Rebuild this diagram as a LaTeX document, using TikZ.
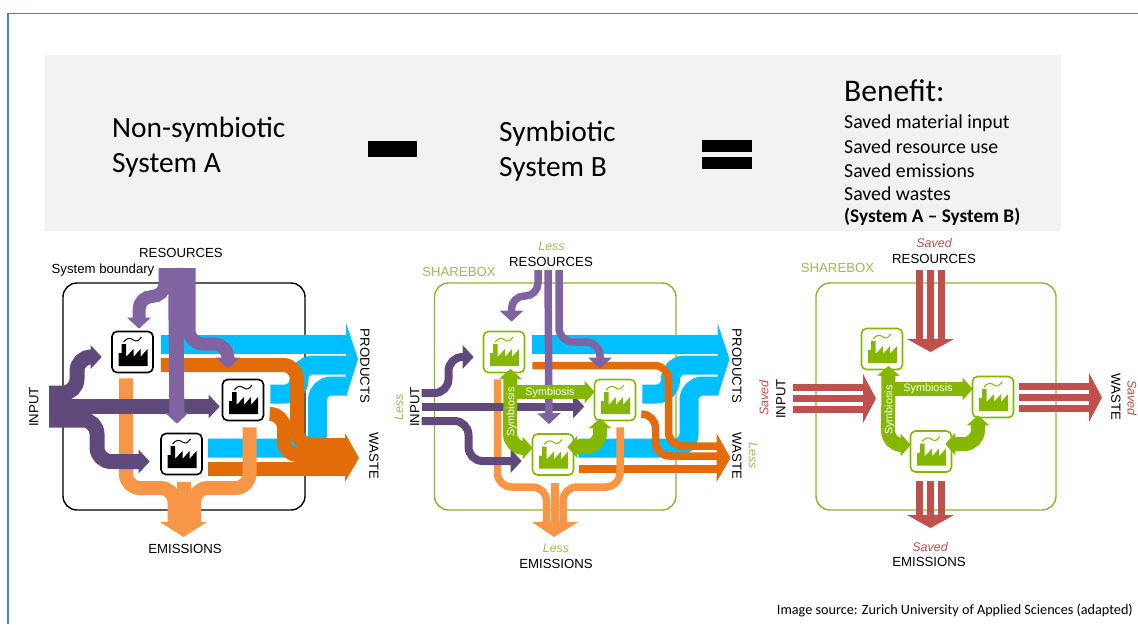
\documentclass[tikz,border=0pt]{standalone}
\usepackage{fontspec}
\setmainfont{Carlito}
\newfontfamily\labelfont{Liberation Sans}
\usetikzlibrary{arrows.meta}
\definecolor{sky}{HTML}{00BFFF}
\definecolor{rust}{HTML}{E36C0A}
\definecolor{peach}{HTML}{F79646}
\definecolor{plum}{HTML}{604A7B}
\definecolor{lilac}{HTML}{8064A2}
\definecolor{saved}{HTML}{C0504D}
\definecolor{leaf}{HTML}{85B700}
\definecolor{edge}{HTML}{8DB32A}
\definecolor{less}{HTML}{9BBB59}
\definecolor{frame}{HTML}{4F81BD}
\tikzset{band/.style={line width=#1pt, rounded corners=14pt},
  tipped/.style={-{Triangle[length=11pt,width=23pt]}},
  symb/.style={line width=14pt, rounded corners=14pt, leaf},
  both/.style={{Triangle[length=10pt,width=22pt]}-{Triangle[length=10pt,width=22pt]}},
  single/.style={-{Triangle[length=10pt,width=22pt]}},
  boundary/.style={line width=1.4pt, rounded corners=14pt},
  plant/.style={draw=#1, fill=white, line width=1.6pt, rounded corners=5pt, minimum size=41pt, inner sep=0pt,
    path picture={
      \fill[#1, sharp corners, shift={(path picture bounding box.center)}] (-14,14) -- (-14,1) -- (-11,1) -- (-11,-8) -- (-6.5,-8) -- (-6.5,5) -- (1,-3) -- (1,5) -- (8,-3) -- (8,5) -- (15,-3) -- (15,14) -- cycle;
      \draw[#1, sharp corners, line width=1pt, shift={(path picture bounding box.center)}] (-9,-10) .. controls (-5,-15) and (-2,-14) .. (1,-12) .. controls (4,-10) and (6,-11) .. (9,-15);
    }},
  tag/.style={font=\labelfont\fontsize{13.2}{15}\selectfont, inner sep=0pt},
  hint/.style={font=\labelfont\itshape\fontsize{12.5}{14}\selectfont, inner sep=0pt},
  symtext/.style={font=\labelfont\fontsize{10.8}{13}\selectfont, text=white, inner sep=0pt},
  head/.style={font=\fontsize{29.4}{32}\selectfont, inner sep=0pt, anchor=west},
  item/.style={font=\fontsize{19.8}{22}\selectfont, inner sep=0pt, anchor=west}}
\begin{document}
\begin{tikzpicture}[x=1pt,y=-1pt]
   \useasboundingbox (0,0) rectangle (1138,624);
   \draw[frame, line width=1.5pt] (8,624) -- (8,13.5) -- (1138,13.5);
   \fill[black!5] (45,55) rectangle (1061,231);
   \node[head] (nonsym) at (112,130) {Non-symbiotic};
   \node[head] (sysa) at (112,165) {System A};
   \node[head] (sym) at (499,134) {Symbiotic};
   \node[head] (sysb) at (499,169) {System B};
   \fill (368,141) rectangle (417,157);
   \fill (702,140) rectangle (752,152);
   \fill (702,157) rectangle (752,169);
   \node[head, font=\fontsize{31.5}{34}\selectfont] (benefit) at (844,91) {Benefit:};
   \node[item] (it1) at (844,123) {Saved material input};
   \node[item] (it2) at (844,147) {Saved resource use};
   \node[item] (it3) at (844,171) {Saved emissions};
   \node[item] (it4) at (844,194) {Saved wastes};
   \node[item, font=\bfseries\fontsize{19.3}{22}\selectfont] (it5) at (844,217) {(System A -- System B)};
   \node[font=\fontsize{14.2}{16}\selectfont, inner sep=0pt, anchor=east] (source) at (1133,611) {Image source: Zurich University of Applied Sciences (adapted)};
   % system A
   \begin{scope}
    \draw[boundary] (63,283) rectangle (305,510);
    \node[plant=black] (a1) at (132.5,352) {};
    \node[plant=black] (a2) at (243,400) {};
    \node[plant=black] (a3) at (181.5,454) {};
    \coordinate (res1) at (165,268);
    \coordinate (res2) at (175.5,268);
    \coordinate (res3) at (189,268);
    \coordinate (in1) at (49,393);
    \coordinate (in2) at (49,406.5);
    \coordinate (in3) at (49,420);
    \coordinate (prod1) at (347,344.5);
    \coordinate (prod2) at (347,365);
    \coordinate (prod3) at (347,386);
    \coordinate (wst1) at (346,445);
    \coordinate (wst2) at (346,455);
    \coordinate (wst3) at (346,469);
    \coordinate (em1) at (174.5,523);
    \coordinate (em2) at (183.5,523);
    \coordinate (em3) at (194,523);
    \draw[band=19,sky] ([shift={(7,-7.5)}]a1.east) -- (prod1);
    \draw[band=19,sky] ([shift={(6,-6)}]a2.east) -- (299,394) -- (299,365) -- (prod2);
    \draw[band=19,sky] ([shift={(5,-6)}]a3.east) -- (317.5,448) -- (317.5,386) -- (prod3);
    \fill[sky] (346,323) -- (358,359) -- (346,397) -- cycle;
    \draw[band=14,rust] ([shift={(7,13)}]a1.east) -- (297,365) -- (297,445) -- (wst1);
    \draw[band=14,rust] ([shift={(6,14)}]a2.east) -- (284,414) -- (284,455) -- (wst2);
    \draw[band=14,rust] ([shift={(5,15)}]a3.east) -- (wst3);
    \fill[rust] (345,433) -- (359,458) -- (345,482) -- cycle;
    \draw[band=14,peach] ([shift={(-6.5,5)}]a1.south) -- (126,488) -- (174.5,488) -- (em1);
    \draw[band=14,peach] ([shift={(6.5,6)}]a2.south) -- (249.5,488) -- (194,488) -- (em3);
    \draw[band=14,peach] ([shift={(2,7)}]a3.south) -- (em2);
    \fill[peach] (160,522) -- (183.5,537) -- (207,522) -- cycle;
    \draw[band=15,plum,tipped] (in1) -- (77,393) -- (77,357) -- ([shift={(-9.5,5)}]a1.west);
    \draw[band=15,plum,tipped] (in2) -- ([shift={(-2,6.5)}]a2.west);
    \draw[band=15,plum,tipped] (in3) -- (97,420) -- (97,461.5) -- ([shift={(-10.5,7.5)}]a3.west);
    \draw[band=13,lilac,tipped,rounded corners=13pt] (res1) -- (165,296.5) -- (139,296.5) -- ([shift={(6.5,-2)}]a1.north);
    \draw[band=15,lilac,tipped] (res2) -- ([shift={(-4.5,-9)}]a3.north);
    \draw[band=13,lilac,tipped] (res3) -- (189,344) -- (228,344) -- ([shift={(-15,-10)}]a2.north);
    \node[tag] (resa) at (181,253) {RESOURCES};
    \node[tag] (bounda) at (103,270) {System boundary};
    \node[tag, rotate=90] (ina) at (34,407) {INPUT};
    \node[tag, rotate=-90] (proda) at (365,366) {PRODUCTS};
    \node[tag, rotate=-90] (wsta) at (374,456) {WASTE};
    \node[tag] (ema) at (185,549) {EMISSIONS};
   \end{scope}
   % system B
   \begin{scope}[xshift=371.5pt]
    \draw[boundary,edge] (63,283) rectangle (304.5,510);
    \node[plant=leaf] (b1) at (132.5,352) {};
    \node[plant=leaf] (b2) at (243.5,400) {};
    \node[plant=leaf] (b3) at (181.5,454.5) {};
    \coordinate (res1) at (166.5,270);
    \coordinate (res2) at (176.5,270);
    \coordinate (res3) at (187.5,270);
    \coordinate (in1) at (50,393);
    \coordinate (in2) at (50,406.5);
    \coordinate (in3) at (50,421);
    \coordinate (prod1) at (347,344.5);
    \coordinate (prod2) at (347,365);
    \coordinate (prod3) at (347,386);
    \coordinate (wst1) at (346,446);
    \coordinate (wst2) at (346,456);
    \coordinate (wst3) at (346,469);
    \coordinate (em1) at (175,523);
    \coordinate (em2) at (183.5,523);
    \coordinate (em3) at (191.5,523);
    \draw[band=19,sky] ([shift={(7,-7.5)}]b1.east) -- (prod1);
    \draw[band=19,sky] ([shift={(6,-6)}]b2.east) -- (299,394) -- (299,365) -- (prod2);
    \draw[band=19,sky] ([shift={(4,-6.5)}]b3.east) -- (317.5,448) -- (317.5,386) -- (prod3);
    \fill[sky] (346,323) -- (358,359) -- (346,397) -- cycle;
    \draw[band=7.5,rust] ([shift={(7,13.5)}]b1.east) -- (297,365.5) -- (297,446) -- (wst1);
    \draw[band=7.5,rust] ([shift={(6,14)}]b2.east) -- (284,414) -- (284,456) -- (wst2);
    \draw[band=7.5,rust] ([shift={(5,14.5)}]b3.east) -- (wst3);
    \fill[rust] (345,433) -- (359,458) -- (345,482) -- cycle;
    \draw[band=7.5,peach] ([shift={(-6.5,6)}]b1.south) -- (126,487) -- (175,487) -- (em1);
    \draw[band=7.5,peach] ([shift={(5,6)}]b2.south) -- (248.5,487) -- (191.5,487) -- (em3);
    \draw[band=7.5,peach] ([shift={(2,7)}]b3.south) -- (em2);
    \fill[peach] (160.5,522) -- (182.5,537) -- (206.5,522) -- cycle;
    \draw[band=8,plum,tipped] (in1) -- (77,393) -- (77,357) -- ([shift={(-9,5)}]b1.west);
    \draw[band=8,plum,tipped] (in2) -- ([shift={(-9.5,6.5)}]b2.west);
    \draw[band=8,plum,tipped] (in3) -- (97,421) -- (97,461) -- ([shift={(-10,6.5)}]b3.west);
    \draw[band=7.5,lilac,tipped,rounded corners=13pt] (res1) -- (166.5,296) -- (140,296) -- ([shift={(7.5,-9)}]b1.north);
    \draw[band=7.5,lilac,tipped] (res2) -- ([shift={(-4,-9)}]b3.north);
    \draw[band=7.5,lilac,tipped] (res3) -- (187.5,342) -- (228.5,342) -- ([shift={(-15,-10)}]b2.north);
    \draw[symb,both] ([shift={(6.5,-4.5)}]b1.south) -- (138.5,448) -- ([shift={(1,-6.5)}]b3.west);
    \draw[symb,single,rounded corners=0pt] (145,392) -- ([shift={(1,-8)}]b2.west);
    \draw[symb,both] ([shift={(-7,-7.5)}]b3.east) -- (228.5,447) -- ([shift={(-15,-3)}]b2.south);
    \node[symtext] (symba) at (178.5,393) {Symbiosis};
    \node[symtext, rotate=90] (symbb) at (140,412) {Symbiosis};
    \node[hint, less] (lessr) at (180,246) {Less};
    \node[tag] (resb) at (179.5,262) {RESOURCES};
    \node[tag, less] (shareb) at (87.5,272) {SHAREBOX};
    \node[hint, less, rotate=90] (lessi) at (27.5,407) {Less};
    \node[tag, rotate=90] (inb) at (43.5,407) {INPUT};
    \node[tag, rotate=-90] (prodb) at (365.5,366) {PRODUCTS};
    \node[tag, rotate=-90] (wstb) at (365.5,456) {WASTE};
    \node[hint, less, rotate=-90] (lessw) at (381.5,456) {Less};
    \node[hint, less] (lesse) at (184.5,548) {Less};
    \node[tag] (emb) at (184.5,564) {EMISSIONS};
   \end{scope}
   % saved amounts
   \begin{scope}[shift={(749.5,-3)}]
    \node[plant=leaf] (c1) at (132.5,352) {};
    \node[plant=leaf] (c2) at (243.5,400) {};
    \node[plant=leaf] (c3) at (181.5,454.5) {};
    \draw[symb,both] ([shift={(6.5,-4.5)}]c1.south) -- (138.5,448) -- ([shift={(1,-6.5)}]c3.west);
    \draw[symb,single,rounded corners=0pt] (145,392) -- ([shift={(1,-8)}]c2.west);
    \draw[symb,both] ([shift={(-7,-7.5)}]c3.east) -- (228.5,447) -- ([shift={(-15,-3)}]c2.south);
    \node[symtext] (symbc) at (178.5,392) {Symbiosis};
    \node[symtext, rotate=90] (symbd) at (140,413) {Symbiosis};
   \end{scope}
   \draw[boundary,edge] (816,283) rectangle (1056,510);
   \coordinate (svr) at (930.5,270);
   \coordinate (svrh) at (930.5,339);
   \coordinate (svi) at (793,398.5);
   \coordinate (svih) at (863,398.5);
   \coordinate (svw) at (1019,397.5);
   \coordinate (svwh) at (1089,397.5);
   \coordinate (sve) at (930.5,481);
   \coordinate (sveh) at (930.5,515);
   \foreach \d in {-11,0,11} {
    \draw[band=7.5,saved] ([xshift=\d pt]svr) -- ([xshift=\d pt]svrh);
    \draw[band=7.5,saved] ([yshift=\d pt]svi) -- ([yshift=\d pt]svih);
    \draw[band=7.5,saved] ([yshift=\d pt]svw) -- ([yshift=\d pt]svwh);
    \draw[band=7.5,saved] ([xshift=\d pt]sve) -- ([xshift=\d pt]sveh);
   }
   \fill[saved] ([xshift=-23.5pt]svrh) -- ([yshift=-13pt]svrh) -- ([xshift=23.5pt]svrh) -- cycle;
   \fill[saved] ([yshift=24.5pt]svih) -- ([xshift=13pt]svih) -- ([yshift=-24.5pt]svih) -- cycle;
   \fill[saved] ([yshift=24.5pt]svwh) -- ([xshift=13pt]svwh) -- ([yshift=-24.5pt]svwh) -- cycle;
   \fill[saved] ([xshift=-23.5pt]sveh) -- ([yshift=-13pt]sveh) -- ([xshift=23.5pt]sveh) -- cycle;
   \node[hint, saved] (savr) at (934,243) {Saved};
   \node[tag] (resc) at (934,259) {RESOURCES};
   \node[tag, less] (sharec) at (837.5,268) {SHAREBOX};
   \node[hint, saved, rotate=90] (savi) at (764,398) {Saved};
   \node[tag, rotate=90] (inc) at (781,399) {INPUT};
   \node[tag, rotate=-90] (wstc) at (1116,397) {WASTE};
   \node[hint, saved, rotate=-90] (savw) at (1132,398) {Saved};
   \node[hint, saved] (save) at (930,547) {Saved};
   \node[tag] (emc) at (929,562) {EMISSIONS};
\end{tikzpicture}
\end{document}
